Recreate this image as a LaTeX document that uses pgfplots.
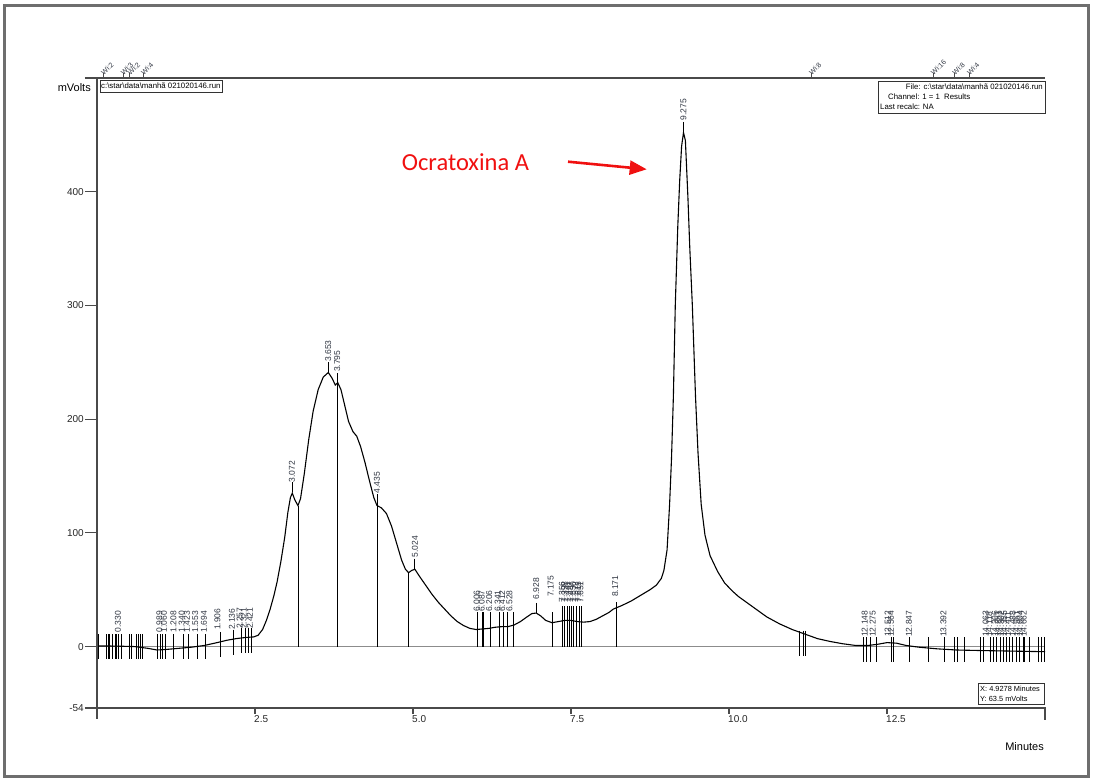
\documentclass[border=0pt]{standalone}
\usepackage{fontspec}
\setmainfont{Liberation Sans}
\newfontfamily\calibri{Carlito}
\usepackage{pgfplots}
\pgfplotsset{compat=1.18}
\usepackage{pgfplotstable}
\usetikzlibrary{arrows.meta}

\definecolor{axgray}{HTML}{4A4A4A}
\definecolor{framegray}{HTML}{6E6E6E}
\definecolor{basegray}{HTML}{8C8C8C}
\definecolor{annred}{HTML}{F01010}
\definecolor{labcol}{HTML}{2E3440}

% detector trace (minutes, mVolts)
\pgfplotstableread{
x y
0 0.5
0.2 0.5
0.4 0.3
0.6 0
0.8 -1.5
0.95 -3
1.1 -2.5
1.3 -1.5
1.5 -0.5
1.7 1
1.9 3.5
2.05 5.5
2.2 7
2.35 8
2.48 8.5
2.55 10
2.62 15
2.68 23
2.74 33
2.8 45
2.85 57
2.91 75
2.97 96
3.02 118
3.06 131
3.09 135
3.13 129
3.18 124
3.22 130
3.28 152
3.35 182
3.42 207
3.5 226
3.58 237
3.66 241
3.72 236
3.77 230
3.81 232
3.86 226
3.92 212
3.98 198
4.05 189
4.11 185
4.17 176
4.24 162
4.31 146
4.38 131
4.43 124
4.5 122
4.58 117
4.66 106
4.74 91
4.82 76
4.88 68
4.93 65
4.98 67
5.03 68
5.1 62
5.2 54
5.3 46
5.4 39
5.5 33
5.6 27
5.7 22
5.8 18.5
5.9 16
6.0 15
6.1 15.5
6.2 16
6.3 17
6.4 17.5
6.5 17.5
6.6 19
6.7 22
6.8 26
6.88 29
6.95 29.5
7.02 27
7.1 23
7.2 21
7.3 22
7.4 23
7.5 23
7.6 22
7.7 21.5
7.8 22
7.9 24
8.0 27
8.1 30
8.17 33
8.3 36
8.45 40
8.6 45
8.75 50
8.85 54
8.93 60
8.97 67
9.02 85
9.06 125
9.09 165
9.12 220
9.15 300
9.19 370
9.22 410
9.25 440
9.28 452
9.31 445
9.35 395
9.38 350
9.42 300
9.47 220
9.51 170
9.56 125
9.62 98
9.7 80
9.82 66
9.93 56
10.05 49
10.15 44
10.25 40
10.35 36
10.45 32
10.6 26
10.8 20
11.0 15
11.2 11
11.4 7
11.6 4.5
11.8 2.5
12.0 1
12.2 1
12.35 2
12.5 3.5
12.65 3
12.8 1
13.0 -0.5
13.3 -2
13.6 -3
14.0 -3.5
14.5 -4
15.0 -4.5
}\trace

% drop lines from the baseline
\pgfplotstableread{
x y
3.18 124
3.80 241
4.43 134
4.92 65
6.02 30
6.09 30
6.11 30
6.23 30
6.37 30
6.43 30
6.50 30
6.58 30
7.20 30
7.36 36
7.40 36
7.44 36
7.47 36
7.50 36
7.54 36
7.58 36
7.63 36
7.67 36
8.21 39
}\drops

% short peak ticks
\pgfplotstableread{
x y
3.09 140
3.66 246
5.03 73
6.95 34
9.28 457
}\peakticks

% integration event marks
\pgfplotstableread{
x y
0.02 0
0.15 0
0.18 0
0.20 0
0.25 0
0.29 0
0.31 0
0.34 0
0.39 0
0.51 0
0.55 0
0.63 0
0.66 0
0.68 0
0.71 0
0.95 0
1.00 0
1.04 0
1.08 0
1.21 0
1.37 0
1.45 0
1.58 0
1.71 0
1.95 2
2.16 4
2.29 5
2.35 5
2.40 5
2.45 5
11.12 3
11.17 3
11.21 3
12.13 -3
12.17 -3
12.24 -3
12.33 -3
12.57 -3
12.60 -3
12.86 -3
13.16 -3
13.41 -3
13.57 -3
13.62 -3
13.72 -3
13.97 -3
14.02 -3
14.13 -3
14.18 -3
14.23 -3
14.29 -3
14.34 -3
14.39 -3
14.44 -3
14.49 -3
14.55 -3
14.60 -3
14.65 -3
14.68 -3
14.76 -3
14.89 -3
14.94 -3
14.99 -3
}\events

% retention time labels
\pgfplotstableread{
x y lab
0.330 12 0.330
0.989 12 0.989
1.060 12 1.060
1.208 12 1.208
1.340 12 1.340
1.423 12 1.423
1.553 12 1.553
1.694 12 1.694
1.906 14 1.906
2.136 14 2.136
2.257 15 2.257
2.321 15 2.321
2.421 15 2.421
3.085 144 3.072
3.66 250 3.653
3.80 241 3.795
4.43 134 4.435
5.03 78 5.024
6.006 30 6.006
6.087 30 6.087
6.206 30 6.206
6.341 30 6.341
6.412 30 6.412
6.528 30 6.528
6.95 41 6.928
7.18 43 7.175
7.356 38 7.356
7.398 38 7.398
7.441 38 7.441
7.487 38 7.487
7.530 38 7.530
7.572 38 7.572
7.613 38 7.613
7.651 38 7.651
8.20 43 8.171
9.28 462 9.275
12.148 8 12.148
12.275 8 12.275
12.512 8 12.512
12.564 8 12.564
12.847 8 12.847
13.392 8 13.392
14.063 8 14.063
14.118 8 14.118
14.206 8 14.206
14.251 8 14.251
14.302 8 14.302
14.355 8 14.355
14.411 8 14.411
14.488 8 14.488
14.551 8 14.551
14.604 8 14.604
14.662 8 14.662
}\rtlabels

% window changes on the top edge
\pgfplotstableread{
x y lab
0.10 502.2 Wi:2
0.41 502.2 Wi:3
0.52 502.2 Wi:2
0.73 502.2 Wi:4
11.30 502.2 Wi:8
13.23 502.2 Wi:16
13.57 502.2 Wi:8
13.80 502.2 Wi:4
}\wins

\begin{document}
\begin{tikzpicture}
\begin{axis}[
  at={(0pt,0pt)}, anchor=south west,
  scale only axis, width=948pt, height=630pt,
  xmin=0, xmax=15, ymin=-54, ymax=500,
  axis line style={draw=none},
  clip=false,
  tick align=outside, xtick pos=left, ytick pos=left,
  major tick length=12pt,
  xtick={0,2.5,5,7.5,10,12.5,15},
  xticklabels={,2.5,5.0,7.5,10.0,12.5,},
  ytick={-54,0,100,200,300,400,500},
  yticklabels={-54,0,100,200,300,400,},
  xtick style={draw=none},
  ytick style={axgray, line width=1.2pt},
  xticklabel style={anchor=north west, inner sep=0pt, xshift=-1pt, yshift=5pt,
    font=\fontsize{10}{12}\selectfont, text=black!85},
  yticklabel style={inner sep=1pt, font=\fontsize{10}{12}\selectfont, text=black!85},
]
  \addplot[basegray, line width=1.3pt] coordinates {(0,0) (15,0)};
  \addplot[black, line width=0.7pt, ycomb, mark=none] table {\drops};
  \addplot[black, only marks, mark=|, mark size=12.5pt, mark options={line width=0.7pt}] table {\events};
  \addplot[black, only marks, mark=|, mark size=5pt, mark options={line width=0.8pt}] table {\peakticks};
  \addplot[black, line width=1.1pt, mark=none] table {\trace};
  \addplot[draw=none, mark=none, nodes near coords, point meta=explicit symbolic,
    every node near coord/.style={rotate=90, anchor=west, inner sep=0.5pt,
      font=\fontsize{8.5}{9}\selectfont, text=labcol}] table[meta=lab] {\rtlabels};
  \addplot[axgray, only marks, mark=|, mark size=2.5pt, mark options={line width=0.8pt}] table {\wins};
  \addplot[draw=none, mark=none, nodes near coords, point meta=explicit symbolic,
    every node near coord/.style={rotate=45, anchor=west, inner sep=0.5pt, yshift=2pt,
      font=\fontsize{7}{7}\selectfont, text=labcol}] table[meta=lab] {\wins};
\end{axis}

\begin{scope}[x=1pt, y=1pt]
  % axis frame
  \draw[axgray, line width=1.3pt] (0,-11) -- (0,630);
  \draw[axgray, line width=1.3pt] (0,0) -- (948,0) -- (948,-12);
  \draw[axgray, line width=1.3pt] (0,630) -- (948,630);
  \foreach \t in {158,316,474,632,790} \draw[axgray, line width=1.2pt] (\t,0) -- (\t,-6);
  % info boxes
  \draw[black!80, line width=0.8pt] (3,616) rectangle (125,628);
  \node[anchor=west, inner sep=0pt, font=\fontsize{7.8}{8}\selectfont] at (4,622)
    {c:\textbackslash star\textbackslash data\textbackslash manhã 021020146.run};
  \draw[black!80, line width=0.8pt] (781,595) rectangle (948,627);
  \node[anchor=east, inner sep=0pt, font=\fontsize{7.8}{8}\selectfont] at (946,621)
    {File: c:\textbackslash star\textbackslash data\textbackslash manhã 021020146.run};
  \node[anchor=west, inner sep=0pt, font=\fontsize{7.8}{8}\selectfont] at (791,611)
    {Channel: 1 = 1\ \ Results};
  \node[anchor=west, inner sep=0pt, font=\fontsize{7.8}{8}\selectfont] at (783,601)
    {Last recalc: NA};
  \draw[black!80, line width=0.8pt] (881,4) rectangle (947,25);
  \node[anchor=west, inner sep=0pt, font=\fontsize{7.4}{8}\selectfont] at (883,19)
    {X: 4.9278 Minutes};
  \node[anchor=west, inner sep=0pt, font=\fontsize{7.4}{8}\selectfont] at (883,9)
    {Y: 63.5 mVolts};
  % axis titles
  \node[anchor=east, inner sep=0pt, font=\fontsize{11}{12}\selectfont] at (-6,620) {mVolts};
  \node[anchor=east, inner sep=0pt, font=\fontsize{11}{12}\selectfont] at (947,-39) {Minutes};
  % annotation
  \node[anchor=base west, inner sep=0pt, text=annred, font=\calibri\fontsize{24.5}{28}\selectfont]
    at (304.7,537) {Ocratoxina A};
  \draw[annred, line width=2.6pt, -{Triangle[length=17pt, width=14pt]}] (471,546.3) -- (549.7,538.7);
  % page frame
  \draw[framegray, line width=3pt] (-92.5,-69) rectangle (991,702.5);
\end{scope}
\pgfresetboundingbox
\path (-97pt,-70pt) rectangle (998pt,708pt);
\end{tikzpicture}
\end{document}
